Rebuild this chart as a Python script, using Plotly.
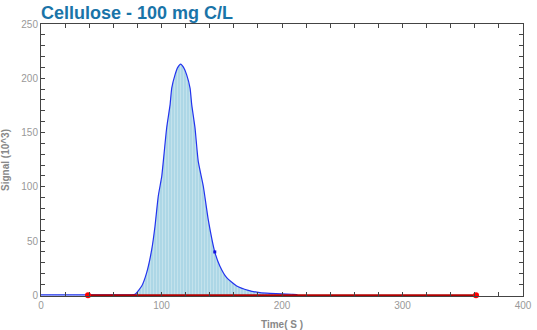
import plotly.graph_objects as go

# Detector signal (blue trace)
time_s = [0, 20, 40, 60, 75, 78, 83.6, 87.7, 91.9, 94.6, 97.3, 100.2, 101.5, 104.3, 107.1,
          108.5, 111.2, 113.5, 115.9, 118.3, 120.9, 123.7, 125.1, 127.8, 130.5, 134.7, 138.8,
          144.4, 148.5, 154.1, 162.4, 172, 181.7, 190, 200, 208, 212, 213]
signal = [0.5, 0.5, 0.5, 0.5, 0.5, 0.9, 8.6, 20.9, 42.3, 63.7, 91.3, 109.6, 123.4, 154.4, 175.5,
          190.9, 203.1, 210, 213, 210, 203.1, 190.9, 175.5, 154.4, 123.4, 100.5, 69.8,
          39.2, 26.9, 16.3, 8.6, 4.6, 2.5, 1.8, 1.3, 1.0, 0.8, 0]

# Integration baseline (red)
base_x = [39, 361]
base_y = [0, 0]

# Peak marker
mark_x = [144.2]
mark_y = [40]

title_text = "Cellulose - 100 mg C/L"

fig = go.Figure()
fig.add_trace(go.Scatter(x=time_s, y=signal, mode="lines", fill="tozeroy",
                         fillcolor="#b3dbe8",
                         fillpattern=dict(shape="|", bgcolor="#add7e6", fgcolor="#e8f4f8",
                                          size=3, solidity=0.25),
                         line=dict(color="#2233ee", width=1.2, shape="spline", smoothing=0.5),
                         showlegend=False))
fig.add_trace(go.Scatter(x=base_x, y=base_y, mode="lines+markers",
                         line=dict(color="#b00000", width=2),
                         marker=dict(color="#ff0000", size=6),
                         cliponaxis=False, showlegend=False))
fig.add_trace(go.Scatter(x=mark_x, y=mark_y, mode="markers",
                         marker=dict(color="#1010dd", size=3, symbol="square"),
                         showlegend=False))

axis_common = dict(showgrid=False, zeroline=False, showline=True, linecolor="#444",
                   linewidth=1, mirror="ticks", ticks="inside", ticklen=4, automargin=False,
                   tickcolor="#444", tickfont=dict(family="Liberation Sans", size=10, color="#999"))

fig.update_xaxes(range=[0, 400], dtick=100, tick0=0,
                 minor=dict(dtick=20, ticks="inside", ticklen=4, tickcolor="#444"),
                 title=dict(text="<b>Time( S )</b>", font=dict(family="Liberation Sans", size=10, color="#888"),
                            standoff=16),
                 **axis_common)
fig.update_yaxes(range=[-0.6, 250], dtick=50, tick0=0,
                 minor=dict(dtick=10, ticks="inside", ticklen=4, tickcolor="#444"),
                 title=dict(text="<b>Signal (10^3)</b>", font=dict(family="Liberation Sans", size=10, color="#888"),
                            standoff=12),
                 **axis_common)

fig.update_layout(
    width=537, height=330,
    margin=dict(l=41, r=14, t=24, b=34),
    plot_bgcolor="white", paper_bgcolor="white",
    title=dict(text="<b>" + title_text + "</b>", xref="paper", x=0, xanchor="left",
               y=1 - 13/330, yanchor="middle", pad=dict(l=0, r=0, t=0, b=0),
               font=dict(family="Liberation Sans", size=18, color="#1a74a8")),
)

fig.write_html("out.html")
